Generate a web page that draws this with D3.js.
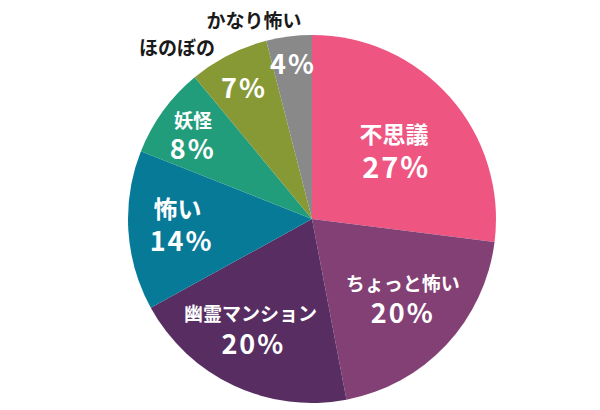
<!DOCTYPE html>
<html><head><meta charset="utf-8">
<script src="https://cdn.jsdelivr.net/npm/d3@7"></script>
<style>html,body{margin:0;padding:0;background:#fff}svg{display:block}</style>
</head><body>
<svg id="c" width="600" height="410"></svg>
<script>
const categories = ["不思議","ちょっと怖い","幽霊マンション","怖い","妖怪","ほのぼの","かなり怖い"];
const values = [27,20,20,14,8,7,4];
const pctLabels = ["27%","20%","20%","14%","8%","7%","4%"];
const colors = ["#EE5581","#834075","#582E62","#077A98","#229D7B","#879935","#898989"];

// label layout (polar: radius px, angle deg clockwise from top) — styling/positions only
const nameLayout = [
  {r:119, a:43.5, size:23, inside:true},
  {r:111, a:125.1, size:19, inside:true},
  {r:112, a:213.3, size:19, inside:true},
  {r:135, a:274.9, size:24, inside:true},
  {r:155, a:309.8, size:19, inside:true},
  {r:219, a:321.9, size:19, inside:false},
  {r:208, a:343.8, size:19, inside:false}
];
const pctLayout = [
  {r:99, a:57.2, size:29},
  {r:129, a:135.9, size:27},
  {r:137, a:205.8, size:27},
  {r:133, a:261.1, size:27},
  {r:140, a:300.8, size:27},
  {r:149, a:332.4, size:27},
  {r:158, a:352.7, size:27}
];

const W=600,H=410,cx=312,cy=219,R=184;
const svg=d3.select("#c");
const g=svg.append("g").attr("transform",`translate(${cx},${cy})`);
const pie=d3.pie().sort(null).value(d=>d.v);
const data=categories.map((c,i)=>({c,v:values[i],i}));
const arcs=pie(data);
const arc=d3.arc().innerRadius(0).outerRadius(R);
g.selectAll("path.s").data(arcs).join("path").attr("class","s")
  .attr("d",arc).attr("fill",d=>colors[d.data.i]);

const font='"Noto Sans CJK JP","Noto Sans",sans-serif';
function pos(l){const t=l.a*Math.PI/180;return [l.r*Math.sin(t),-l.r*Math.cos(t)];}
g.selectAll("text.n").data(arcs).join("text").attr("class","n")
  .each(function(d){const l=nameLayout[d.data.i];const p=pos(l);
    d3.select(this).attr("x",p[0]).attr("y",p[1]).attr("font-size",l.size)
      .attr("fill",l.inside?"#fff":"#1a1a1a");})
  .attr("text-anchor","middle").attr("dominant-baseline","central")
  .attr("font-family",font).attr("font-weight","bold")
  .text(d=>d.data.c);
g.selectAll("text.p").data(arcs).join("text").attr("class","p")
  .each(function(d){const l=pctLayout[d.data.i];const p=pos(l);
    d3.select(this).attr("x",p[0]+1).attr("y",p[1]).attr("font-size",l.size);})
  .attr("text-anchor","middle").attr("dominant-baseline","central")
  .attr("font-family",font).attr("font-weight","bold").attr("fill","#fff")
  .attr("letter-spacing",2)
  .text(d=>pctLabels[d.data.i]);
</script>
</body></html>
